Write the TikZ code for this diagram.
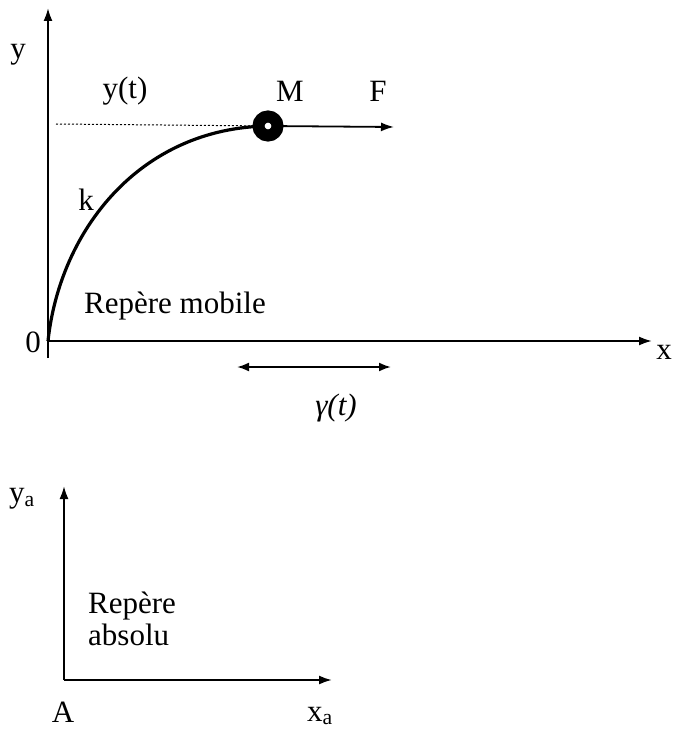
\documentclass[tikz,border=0pt]{standalone}
\usepackage{fontspec}
\setmainfont{Liberation Serif}
\usetikzlibrary{arrows.meta}
\begin{document}
\begin{tikzpicture}[x=1pt,y=-1pt,
  lbl/.style={font=\fontsize{31}{33}\selectfont, inner sep=0pt},
  axis/.style={line width=2pt, -{Latex[length=13pt,width=9pt]}},
  thinarrow/.style={line width=1.8pt, -{Latex[length=13pt,width=9pt]}}]
\useasboundingbox (0,0) rectangle (674,730);
% moving frame
\coordinate (O) at (48,341);
\coordinate (Obot) at (48,358);
\coordinate (ytop) at (48,8);
\coordinate (xl) at (48,341);
\coordinate (xr) at (652,341);
\draw[axis] (Obot) -- (ytop);
\draw[axis] (xl) -- (xr);
\node[lbl] (ylab) at (18,55) {y};
\node[lbl] (xlab) at (664,352) {x};
\node[lbl] (zero) at (33,342) {0};
% point M
\coordinate (Mc) at (268,126);
\coordinate (dotl) at (56,124);
\draw[dash pattern=on 2pt off 2pt, line width=1pt] (dotl) -- (Mc);
\draw[line width=3.2pt] (O) .. controls (60,230) and (140,128) .. (Mc);
\coordinate (Fend) at (394,127);
\draw[thinarrow] (Mc) -- (Fend);
\node[circle, draw, line width=12pt, minimum size=19pt, inner sep=0pt, fill=white] (M) at (Mc) {};
\node[lbl] (Mlab) at (290,91) {M};
\node[lbl] (Flab) at (378,91) {F};
\node[lbl] (ytlab) at (125,91) {y(t)};
\node[lbl] (klab) at (86,200) {k};
\node[lbl, anchor=west] (mob) at (84,306) {Repère mobile};
% gamma
\coordinate (gl) at (237,367);
\coordinate (gr) at (391,367);
\draw[line width=2pt, {Latex[length=12pt,width=9pt]}-{Latex[length=12pt,width=9pt]}] (gl) -- (gr);
\node[lbl] (glab) at (336,408) {\textit{γ(t)}};
% absolute frame
\coordinate (A) at (64,680);
\coordinate (yatop) at (64,486);
\coordinate (xaend) at (332,680);
\draw[axis] (A) -- (yatop);
\draw[axis] (A) -- (xaend);
\node[lbl] (yalab) at (22,499) {y\textsubscript{a}};
\node[lbl] (Alab) at (63,712) {A};
\node[lbl] (xalab) at (320,716) {x\textsubscript{a}};
\node[lbl, anchor=west, align=left] (abs) at (88,619) {Repère\\[-1pt]absolu};
\end{tikzpicture}
\end{document}
